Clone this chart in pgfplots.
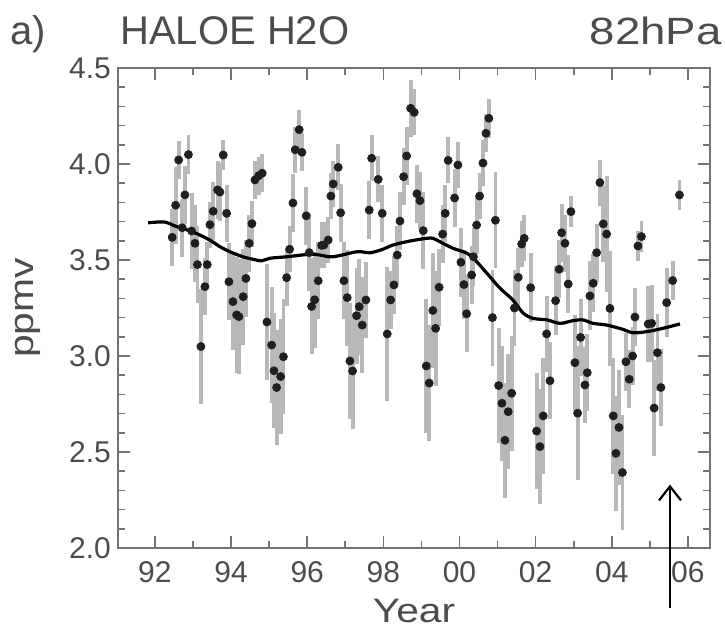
\documentclass[border=0pt]{standalone}
\usepackage{fontspec}
\setmainfont{Liberation Sans}
\newfontfamily\widefont[FakeStretch=1.2]{Liberation Sans}
\usepackage{pgfplots}
\pgfplotsset{compat=1.18}
\usepackage{pgfplotstable}
\usetikzlibrary{arrows.meta}
\colorlet{axgray}{black!55}
\colorlet{txtgray}{black!70}

\pgfplotstableread{
x y e
1992.454 3.618 0.15
1992.544 3.785 0.2
1992.623 4.021 0.1
1992.717 3.668 0.15
1992.788 3.839 0.15
1992.880 4.049 0.1
1992.964 3.651 0.2
1993.051 3.587 0.2
1993.116 3.476 0.2
1993.208 3.049 0.3
1993.313 3.361 0.15
1993.374 3.476 0.12
1993.445 3.684 0.12
1993.531 3.754 0.15
1993.647 3.865 0.15
1993.707 3.854 0.15
1993.794 4.047 0.08
1993.883 3.743 0.15
1993.944 3.387 0.2
1994.049 3.283 0.25
1994.146 3.214 0.3
1994.206 3.205 0.3
1994.319 3.309 0.25
1994.390 3.404 0.2
1994.477 3.587 0.15
1994.548 3.689 0.12
1994.627 3.917 0.1
1994.724 3.939 0.1
1994.818 3.952 0.1
1994.942 3.177 0.3
1995.065 3.057 0.3
1995.126 2.923 0.3
1995.197 2.836 0.3
1995.302 2.893 0.3
1995.375 2.996 0.3
1995.459 3.408 0.15
1995.538 3.556 0.12
1995.625 3.797 0.15
1995.685 4.074 0.12
1995.790 4.179 0.1
1995.861 4.061 0.1
1995.974 3.730 0.15
1996.053 3.538 0.2
1996.116 3.258 0.25
1996.195 3.293 0.25
1996.289 3.392 0.2
1996.379 3.576 0.12
1996.439 3.578 0.12
1996.552 3.604 0.12
1996.623 3.833 0.12
1996.684 3.896 0.12
1996.815 3.983 0.12
1996.878 3.746 0.15
1996.965 3.392 0.2
1997.051 3.304 0.25
1997.122 2.974 0.3
1997.193 2.922 0.3
1997.298 3.210 0.25
1997.366 3.257 0.25
1997.445 3.161 0.25
1997.542 3.292 0.2
1997.629 3.760 0.15
1997.692 4.030 0.12
1997.866 3.920 0.12
1997.971 3.743 0.15
1998.102 3.115 0.35
1998.191 3.292 0.15
1998.278 3.370 0.15
1998.365 3.526 0.15
1998.436 3.703 0.15
1998.533 3.934 0.15
1998.612 4.042 0.15
1998.717 4.290 0.15
1998.811 4.269 0.12
1998.882 3.845 0.15
1998.961 3.809 0.15
1999.048 3.653 0.2
1999.127 2.948 0.35
1999.205 2.859 0.3
1999.300 3.237 0.3
1999.373 3.144 0.3
1999.465 3.358 0.2
1999.557 3.635 0.15
1999.625 3.743 0.15
1999.702 4.019 0.12
1999.872 3.823 0.15
1999.959 3.995 0.12
2000.038 3.488 0.18
2000.117 3.372 0.18
2000.188 3.220 0.2
2000.319 3.422 0.15
2000.366 3.517 0.15
2000.450 3.682 0.15
2000.529 3.833 0.12
2000.616 4.005 0.12
2000.695 4.160 0.1
2000.773 4.238 0.1
2000.865 3.200 0.25
2000.944 3.707 0.25
2001.028 2.846 0.3
2001.115 2.754 0.3
2001.194 2.561 0.3
2001.280 2.710 0.3
2001.370 2.806 0.3
2001.443 3.250 0.2
2001.543 3.410 0.15
2001.632 3.583 0.12
2001.700 3.613 0.12
2001.869 3.356 0.18
2002.026 2.609 0.3
2002.113 2.528 0.3
2002.200 2.688 0.3
2002.289 3.115 0.2
2002.376 2.871 0.2
2002.525 3.288 0.18
2002.620 3.452 0.15
2002.683 3.642 0.15
2002.770 3.587 0.15
2002.856 3.375 0.15
2002.927 3.752 0.08
2003.032 2.965 0.25
2003.103 2.702 0.35
2003.182 3.097 0.2
2003.295 2.849 0.2
2003.356 2.913 0.2
2003.426 3.313 0.18
2003.513 3.379 0.15
2003.602 3.538 0.15
2003.689 3.903 0.12
2003.776 3.688 0.2
2003.865 3.635 0.3
2003.952 3.248 0.3
2004.039 2.688 0.3
2004.109 2.493 0.3
2004.188 2.628 0.3
2004.280 2.393 0.3
2004.372 2.970 0.15
2004.459 2.879 0.15
2004.548 3.000 0.15
2004.608 3.203 0.15
2004.687 3.573 0.08
2004.779 3.622 0.08
2004.958 3.167 0.2
2005.047 3.170 0.2
2005.113 2.729 0.25
2005.199 3.017 0.2
2005.291 2.836 0.2
2005.441 3.278 0.18
2005.599 3.393 0.1
2005.778 3.839 0.08
}\obs

\pgfplotstableread{
x y
1991.82 3.694
1992.26 3.698
1992.53 3.677
1993.00 3.646
1993.44 3.604
1993.71 3.569
1993.97 3.543
1994.31 3.517
1994.57 3.504
1994.81 3.496
1995.02 3.509
1995.47 3.517
1996.07 3.530
1996.33 3.526
1996.68 3.517
1997.31 3.543
1997.65 3.538
1997.99 3.556
1998.25 3.578
1998.70 3.599
1999.14 3.613
1999.30 3.613
1999.49 3.595
1999.83 3.561
2000.20 3.535
2000.41 3.500
2000.72 3.431
2001.06 3.354
2001.40 3.292
2001.67 3.224
2001.93 3.196
2002.30 3.188
2002.64 3.170
2002.98 3.184
2003.24 3.188
2003.51 3.170
2003.87 3.161
2004.29 3.139
2004.56 3.121
2004.92 3.127
2005.34 3.144
2005.79 3.167
}\trend

\begin{document}
\begin{tikzpicture}
\path[use as bounding box] (-59pt,-40.5pt) rectangle (303.5pt,274pt);
\begin{axis}[
  scale only axis, width=296pt, height=240pt,
  xmin=1991.03, xmax=2006.58, ymin=2, ymax=4.5,
  xtick={1992,1994,1996,1998,2000,2002,2004,2006},
  xticklabels={92,94,96,98,00,02,04,06},
  minor xtick={1991,1993,1995,1997,1999,2001,2003,2005},
  ytick={2,2.5,3,3.5,4,4.5}, minor y tick num=4,
  yticklabel style={/pgf/number format/.cd, fixed, fixed zerofill, precision=1},
  /pgf/number format/assume math mode=true,
  tick align=inside,
  major tick length=6pt, minor tick length=3.5pt,
  axis line style={axgray, line width=0.9pt},
  every tick/.style={axgray, line width=0.8pt},
  tick label style={font=\fontsize{15}{17}\selectfont, text=txtgray},
  xticklabel style={yshift=-3pt},
  xlabel={Year}, ylabel={ppmv},
  every axis x label/.style={at={(axis description cs:0.5,-0.132)}, anchor=center, font=\widefont\fontsize{17}{19}\selectfont, text=txtgray},
  every axis y label/.style={at={(axis description cs:-0.152,0.5)}, anchor=center, rotate=90, font=\widefont\fontsize{17}{19}\selectfont, text=txtgray},
  clip=false,
]
\addplot[only marks, mark=*, mark size=2pt, mark options={fill=black!88, draw=black!88},
  error bars/.cd, y dir=both, y explicit,
  error bar style={black!28, line width=1.9pt}, error mark=none]
  table[x=x, y=y, y error=e] {\obs};
\addplot[black, line width=1.6pt, smooth] table[x=x, y=y] {\trend};
\draw[-{Straight Barb[length=7pt,width=11pt]}, line width=1.1pt, black]
  (axis cs:2005.53,1.69) -- (axis cs:2005.53,2.33);
\node[anchor=base west, inner sep=0, font=\fontsize{20}{24}\selectfont, text=txtgray]
  at (axis description cs:-0.1824,1.05) {a)};
\node[anchor=base west, inner sep=0, font=\fontsize{20}{24}\selectfont, text=txtgray]
  at (axis description cs:0.0034,1.05) {HALOE H2O};
\node[anchor=base east, inner sep=0, font=\widefont\fontsize{19}{24}\selectfont, text=txtgray]
  at (axis description cs:1.0203,1.05) {82hPa};
\end{axis}
\end{tikzpicture}
\end{document}
